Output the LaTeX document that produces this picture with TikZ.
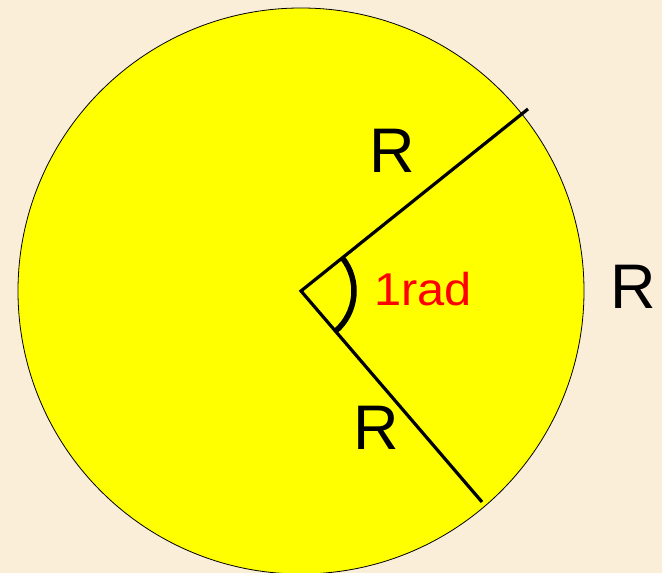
\documentclass[tikz,border=0pt]{standalone}
\usepackage{fontspec}
\setmainfont{Liberation Sans}
\usetikzlibrary{calc}
\definecolor{bgc}{RGB}{250,238,217}
\definecolor{disk}{RGB}{255,255,0}
\definecolor{radred}{RGB}{255,0,0}
\begin{document}
\begin{tikzpicture}[x=1pt,y=1pt,
  radius line/.style={line width=3.2pt},
  rlabel/.style={font=\fontsize{63}{63}\selectfont, text=black, inner sep=0pt},
  anglelabel/.style={font=\fontsize{46}{46}\selectfont, text=radred, inner sep=0pt, xscale=1.06}]
\fill[bgc] (0,0) rectangle (662,573);
\useasboundingbox (0,0) rectangle (662,573);
\coordinate (O) at (301,282);
\coordinate (A) at (528,464);
\coordinate (B) at (482,71);
\filldraw[fill=disk, draw=black, line width=0.8pt] (O) circle (283);
\draw[radius line] (A) -- (O) -- (B);
\draw[line width=5.5pt] ($(O)+(-49.4:53)$) arc[start angle=-49.4, end angle=38.7, radius=53];
\node[rlabel] (r1) at (392,422) {R};
\node[rlabel] (r2) at (376,145) {R};
\node[rlabel] (r3) at (633,286) {R};
\node[anglelabel] (ang) at (423,284) {1rad};
\end{tikzpicture}
\end{document}
